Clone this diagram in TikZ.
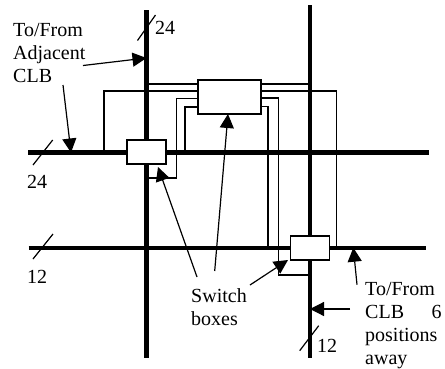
\documentclass[tikz,border=0pt]{standalone}
\usepackage{fontspec}
\usepackage{tikz}
\setmainfont{Liberation Serif}
\usetikzlibrary{arrows.meta,positioning,calc}

\begin{document}
\begin{tikzpicture}[
    x=1pt, y=-1pt,
    bus/.style={draw=black, line width=5.5pt},
    thinbus/.style={draw=black, line width=3.8pt},
    wire/.style={draw=black, line width=1.2pt},
    slash/.style={draw=black, line width=1.2pt},
    arr/.style={-{Triangle[length=14pt,width=14pt]}, line width=1.2pt},
    swbox/.style={draw=black, fill=white, line width=1.3pt, outer sep=0pt, inner sep=0pt},
    lbl/.style={font=\fontsize{20}{23}\selectfont, align=left, anchor=north west, inner sep=0pt}
]
  \useasboundingbox (0,0) rectangle (445,368);

  % Bus end points
  \coordinate (vatop) at (146.5,10);
  \coordinate (vabot) at (146.5,358);
  \coordinate (vbtop) at (310,5);
  \coordinate (vbbot) at (310,358);
  \coordinate (haleft) at (28,152.5);
  \coordinate (haright) at (429,152.5);
  \coordinate (hbleft) at (28.5,247.7);
  \coordinate (hbright) at (426,247.7);

  % Buses
  \draw[bus] (vatop) -- (vabot);
  \draw[bus] (haleft) -- (haright);
  \draw[thinbus] (vbtop) -- (vbbot);
  \draw[thinbus] (hbleft) -- (hbright);

  % Switch boxes
  \node[swbox, minimum width=39pt, minimum height=24pt] (swa) at (146.5,152) {};
  \node[swbox, minimum width=63pt, minimum height=34pt] (swc) at (229.5,97) {};
  \node[swbox, minimum width=39pt, minimum height=24pt] (swb) at (310.3,248) {};

  % Wires on the left of the middle box
  \draw[wire] (vatop |- 0,84) -- (swc.west |- 0,84);
  \draw[wire] (104,0 |- haleft) -- (104,91) -- (swc.west |- 0,91);
  \draw[wire] (swc.west |- 0,98.5) -- (176.7,98.5) -- (176.7,178) -- (vatop |- 0,178);
  \draw[wire] (swc.west |- 0,107) -- (185,107) -- (185,0 |- haleft);

  % Wires on the right of the middle box
  \draw[wire] (swc.east |- 0,84) -- (vbtop |- 0,84);
  \draw[wire] (swc.east |- 0,91) -- (336.7,91) -- (336.7,0 |- hbleft);
  \draw[wire] (swc.east |- 0,98) -- (278.7,98) -- (278.7,275) -- (vbtop |- 0,275);
  \draw[wire] (swc.east |- 0,106.5) -- (268,106.5) -- (268,0 |- hbleft);

  % Width marks
  \draw[slash] (137.5,40.5) -- (155.5,15);
  \draw[slash] (33,165) -- (52.7,140);
  \draw[slash] (33,259) -- (53,234);
  \draw[slash] (299.7,350.7) -- (318.7,325.7);

  % Labels
  \node[lbl] (adj) at (13,23.5) {To/From\\Adjacent\\CLB};
  \node[lbl] (sw) at (191,288.5) {Switch\\boxes};
  \node[lbl] (far) at (365,282.5) {To/From\\\makebox[76.5pt]{CLB\hfill 6}\\positions\\away};
  \node[lbl] (wtop) at (155,21.5) {24};
  \node[lbl] (wleft) at (27,175.5) {24};
  \node[lbl] (wlow) at (27,270.5) {12};
  \node[lbl] (wbot) at (317,339) {12};

  % Arrows
  \draw[arr] (83,65.5) -- (vatop |- 0,58);
  \draw[arr] (63,85) -- (71,0 |- haleft);
  \draw[arr] (197,277) -- (158,167);
  \draw[arr] (214.7,271) -- (228,0 |- swc.south);
  \draw[arr] (250,285) -- (288,260);
  \draw[arr] (357,284.7) -- (353.3,0 |- hbleft);
  \draw[arr] (350,309) -- (vbtop |- 0,309);
\end{tikzpicture}
\end{document}
